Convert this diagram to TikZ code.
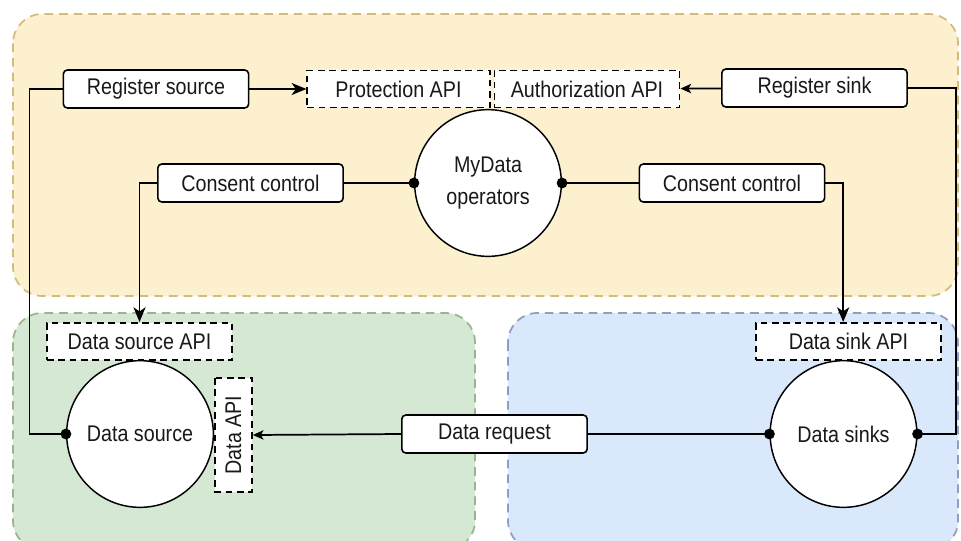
\documentclass[tikz,border=0pt]{standalone}
\usepackage{fontspec}
\setmainfont{Liberation Sans}[FakeStretch=0.87]
\usetikzlibrary{arrows.meta}
\definecolor{opfill}{HTML}{FCF0CE}
\definecolor{opline}{HTML}{D3BC7A}
\definecolor{srcfill}{HTML}{D5E8D4}
\definecolor{srcline}{HTML}{98B58D}
\definecolor{snkfill}{HTML}{DAE8FC}
\definecolor{snkline}{HTML}{8D9FBE}

\begin{document}
\begin{tikzpicture}[x=0.75pt,y=0.75pt]
\tikzstyle{every node}+=[inner sep=0pt, font=\fontsize{17}{24}\selectfont, text=black!90]
\tikzstyle{zone}=[line width=1.3pt, dash pattern=on 6.5pt off 4.5pt, rounded corners=22pt]
\tikzstyle{box}=[draw, fill=white, line width=1.2pt, rounded corners=3pt, minimum width=139pt, minimum height=28.5pt]
\tikzstyle{api}=[draw, fill=white, line width=1.2pt, dash pattern=on 5pt off 3.5pt, minimum width=139pt, minimum height=28pt]
\tikzstyle{proc}=[draw, fill=white, line width=1.1pt, circle, minimum size=110pt, align=center]
\tikzstyle{link}=[line width=1.3pt]
\tikzstyle{arr}=[link, -{Stealth[length=11pt,width=9pt,inset=3pt]}]
\tikzstyle{arrs}=[link, -{Stealth[length=8pt,width=7pt,inset=2pt]}]
\tikzstyle{dotend}=[link, -{Circle[length=8pt]}, shorten >=-4pt]
\tikzstyle{dotstart}=[link, {Circle[length=8pt]}-, shorten <=-4pt]
\useasboundingbox (0,0) rectangle (961,-540);
\clip (0,0) rectangle (961,-540);
\fill [white] (0,0) rectangle (961,-540);
% zones
\draw [zone, draw=opline, fill=opfill] (13,-14) rectangle (958,-296);
\draw [zone, draw=srcline, fill=srcfill] (13,-313) rectangle (475,-550);
\draw [zone, draw=snkline, fill=snkfill] (508,-313) rectangle (958,-550);
% MyData operators
\node [proc] (myd) at (488,-183) {MyData\\operators};
\node [box] (rsrc) at (156,-89) {Register source};
\node [api, minimum width=137pt] (prot) at (398.5,-89) {Protection API};
\node [api] (auth) at (587,-89) {Authorization API};
\node [box] (rsnk) at (814.5,-88) {Register sink};
\node [box] (ccl) at (250.5,-183) {Consent control};
\node [box] (ccr) at (732,-183) {Consent control};
% data source
\node [api] (dsapi) at (139.5,-341.5) {Data source API};
\node [proc] (dsrc) at (140,-434) {Data source};
\node [api, rotate=90, minimum width=85.5pt, minimum height=27.75pt] (dapi) at (233.5,-435) {Data API};
% data sinks
\node [box] (dreq) at (494.5,-434) {Data request};
\node [api] (dkapi) at (848.5,-341.5) {Data sink API};
\node [proc] (dsnk) at (843.5,-434) {Data sinks};
% connectors
\draw [arr] (rsrc) -- (prot);
\draw [arrs] (rsnk) -- (auth);
\draw [dotend] (rsrc.west) -- ++(-33,0) |- (dsrc.west);
\draw [dotend] (rsnk.east) -- ++(48,0) |- (dsnk.east);
\draw [dotstart] (myd.west) -- (ccl.east);
\draw [dotstart] (myd.east) -- (ccr.west);
\draw [arr] (ccl.west) -| (dsapi.north);
\draw [arr] (ccr.east) -| ([xshift=-4pt]dkapi.north);
\draw [arrs] (dreq.west) -- (dapi.south);
\draw [dotstart] (dsnk.west) -- (dreq.east);
\end{tikzpicture}
\end{document}
